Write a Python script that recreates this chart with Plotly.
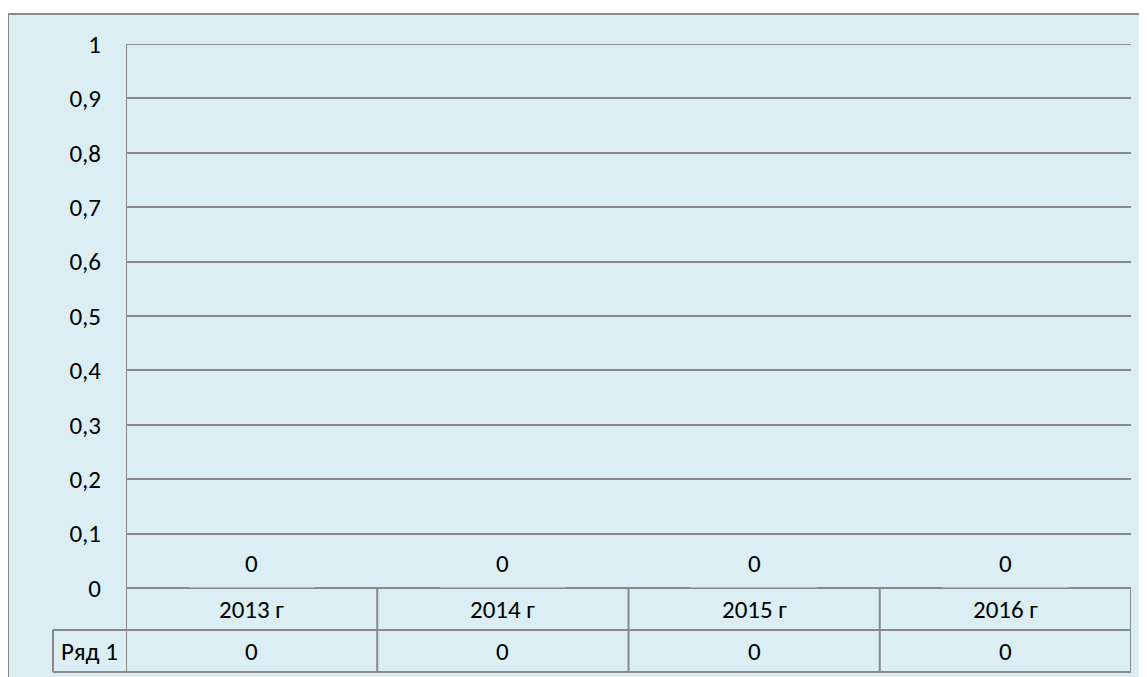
import plotly.graph_objects as go

categories = ["2013 г", "2014 г", "2015 г", "2016 г"]
series_name = "Ряд 1"
values = [0, 0, 0, 0]
y_ticks = [0, 0.1, 0.2, 0.3, 0.4, 0.5, 0.6, 0.7, 0.8, 0.9, 1]
y_tick_labels = ["0", "0,1", "0,2", "0,3", "0,4", "0,5", "0,6", "0,7", "0,8", "0,9", "1"]

# page has 8px body margin; work in page pixel coordinates
OFF = 8
W, H = 1147 - OFF, 677 - OFF
PL, PR, PT, PB = 126, 1131, 44, 588   # plot area in page pixels
L, T = PL - OFF, PT - OFF
R = W - (PR - OFF)
B = H - (PB - OFF)
PW, PH = PR - PL, PB - PT

def px_x(px):
    return (px - PL) / PW

def px_y(py):
    return (PB - py) / PH

BG = "#DBEEF3"
LINE = "#898989"
FONT = "Carlito, Calibri, Lato, sans-serif"
FS = 25

fig = go.Figure()
fig.add_trace(go.Bar(x=categories, y=values, name=series_name,
                     marker_color="#4F81BD", width=0.5, showlegend=False))

shapes = []
shapes.append(dict(type="rect", xref="paper", yref="paper",
                   x0=px_x(8), x1=px_x(1170), y0=px_y(720), y1=px_y(14),
                   fillcolor=BG, line=dict(color=LINE, width=2), layer="below"))

n = len(categories)
row_mid = 630
row_bot = 672
# top gridline (value 1)
shapes.append(dict(type="line", xref="paper", yref="y",
                   x0=0, x1=1, y0=y_ticks[-1], y1=y_ticks[-1],
                   line=dict(color=LINE, width=2)))
for yy in [row_mid, row_bot]:
    shapes.append(dict(type="line", xref="paper", yref="paper",
                       x0=px_x(53), x1=1, y0=px_y(yy), y1=px_y(yy),
                       line=dict(color=LINE, width=2)))
# left axis line (full height) and table column separators
shapes.append(dict(type="line", xref="x", yref="paper",
                   x0=-0.5, x1=-0.5, y0=1, y1=px_y(row_bot),
                   line=dict(color=LINE, width=2)))
for i in range(1, n + 1):
    shapes.append(dict(type="line", xref="x", yref="paper",
                       x0=i - 0.5, x1=i - 0.5, y0=0, y1=px_y(row_bot),
                       line=dict(color=LINE, width=2)))
shapes.append(dict(type="line", xref="paper", yref="paper",
                   x0=px_x(53), x1=px_x(53), y0=px_y(row_mid), y1=px_y(row_bot),
                   line=dict(color=LINE, width=2)))

annotations = []
tf = dict(family=FONT, size=FS, color="#000000")
for c, v in zip(categories, values):
    annotations.append(dict(x=c, y=v, xref="x", yref="y", text=str(v).replace(".", ","),
                            showarrow=False, yshift=25, yanchor="middle", font=tf))
    annotations.append(dict(x=c, y=px_y((PB + row_mid) / 2), xref="x", yref="paper",
                            text=c, showarrow=False, yanchor="middle", font=tf))
    annotations.append(dict(x=c, y=px_y((row_mid + row_bot) / 2), xref="x", yref="paper",
                            text=str(v).replace(".", ","), showarrow=False, yanchor="middle", font=tf))
annotations.append(dict(x=px_x((53 + 126) / 2), y=px_y((row_mid + row_bot) / 2),
                        xref="paper", yref="paper", text=series_name, showarrow=False,
                        yanchor="middle", xanchor="center", font=tf))

fig.update_layout(
    width=W, height=H,
    margin=dict(l=L, r=R, t=T, b=B, pad=0),
    paper_bgcolor="#FFFFFF",
    plot_bgcolor="rgba(0,0,0,0)",
    shapes=shapes,
    annotations=annotations,
    showlegend=False,
    font=tf,
    xaxis=dict(type="category", range=[-0.5, n - 0.5], showticklabels=False,
               showgrid=False, zeroline=False, showline=False, ticks=""),
    yaxis=dict(range=[0, 1], tickvals=y_ticks, ticktext=y_tick_labels,
               showgrid=True, gridcolor=LINE, gridwidth=2,
               zeroline=True, zerolinecolor=LINE, zerolinewidth=2,
               showline=False, ticks="", ticklabelstandoff=24, tickfont=tf),
)

fig.write_html("out.html")
